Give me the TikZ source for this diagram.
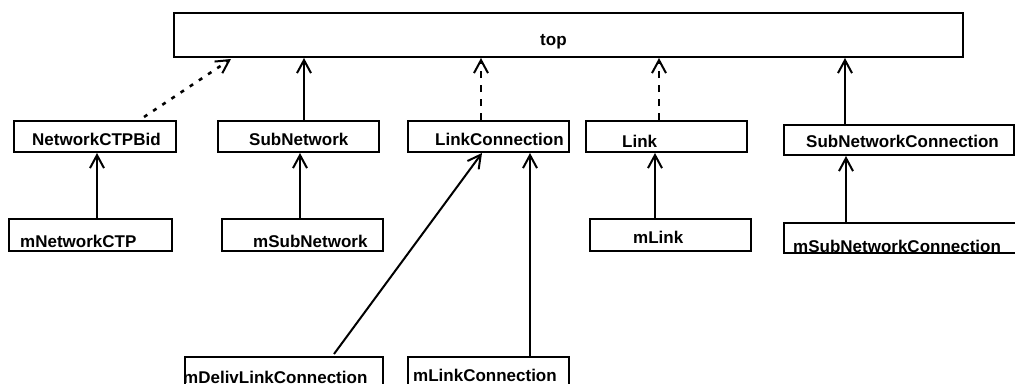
\documentclass[tikz,border=0pt]{standalone}
\usepackage{fontspec}
\setmainfont{Liberation Sans}
\usetikzlibrary{arrows.meta}
\begin{document}
\begin{tikzpicture}[x=1pt,y=-1pt,
  box/.style={draw,line width=2pt,inner sep=0pt,minimum width=#1},
  lbl/.style={inner sep=0pt,anchor=base west,font=\fontsize{17}{17}\selectfont\bfseries},
  arr/.style={line width=2pt,-{Straight Barb[length=13pt,width=14pt,line width=2pt]}},
  dotarr/.style={arr,line width=2.6pt,dash pattern=on 4pt off 7pt},
  dasharr/.style={arr,line width=2.6pt,dash pattern=on 7pt off 7pt}]
\useasboundingbox (0,0) rectangle (1015,383);
\begin{scope}
\clip (0,0) rectangle (1015,383);
% boxes
\node[box=789,minimum height=44] (top) at (568.5,35) {};
\node[box=162,minimum height=31] (ncb) at (95,136.5) {};
\node[box=161,minimum height=31] (sn) at (298.5,136.5) {};
\node[box=161,minimum height=31] (lc) at (488.5,136.5) {};
\node[box=161,minimum height=31] (link) at (666.5,136.5) {};
\node[box=230,minimum height=30] (snc) at (899,140) {};
\node[box=163,minimum height=32] (mncp) at (90.5,235) {};
\node[box=161,minimum height=32] (msn) at (302.5,235) {};
\node[box=161,minimum height=32] (mlink) at (670.5,235) {};
\node[box=246,minimum height=30] (msnc) at (907,238) {};
\node[box=198,minimum height=43] (mdlc) at (284,378.5) {};
\node[box=161,minimum height=43] (mlc) at (488.5,378.5) {};
% labels
\node[lbl] (ttop) at (540,45) {top};
\node[lbl] (tncb) at (32,145) {NetworkCTPBid};
\node[lbl] (tsn) at (249,145) {SubNetwork};
\node[lbl] (tlc) at (435,145) {LinkConnection};
\node[lbl] (tlink) at (622,147) {Link};
\node[lbl] (tsnc) at (806,147) {SubNetworkConnection};
\node[lbl] (tmncp) at (20,247) {mNetworkCTP};
\node[lbl] (tmsn) at (253,247) {mSubNetwork};
\node[lbl] (tmlink) at (633,243) {mLink};
\node[lbl] (tmsnc) at (793,252) {mSubNetworkConnection};
\node[lbl] (tmdlc) at (183,383) {mDelivLinkConnection};
\node[lbl] (tmlc) at (413,381) {mLinkConnection};
% connectors
\coordinate (c1) at (144,117);
\coordinate (c1t) at (231,59);
\draw[dotarr] (c1) -- (c1t);
\draw[arr] (sn.north -| 304,0) -- (top.south -| 304,0);
\draw[dasharr] (lc.north -| 481,0) -- (top.south -| 481,0);
\draw[dasharr] (link.north -| 659,0) -- (top.south -| 659,0);
\draw[arr] (snc.north -| 845,0) -- (top.south -| 845,0);
\draw[arr] (mncp.north -| 97,0) -- (ncb.south -| 97,0);
\draw[arr] (msn.north -| 300,0) -- (sn.south -| 300,0);
\coordinate (c2) at (334,354);
\draw[arr] (c2) -- (lc.south -| 482,0);
\draw[arr] (mlc.north -| 530,0) -- (lc.south -| 530,0);
\draw[arr] (mlink.north -| 655,0) -- (link.south -| 655,0);
\draw[arr] (msnc.north -| 846,0) -- (snc.south -| 846,0);
\end{scope}
\end{tikzpicture}
\end{document}
